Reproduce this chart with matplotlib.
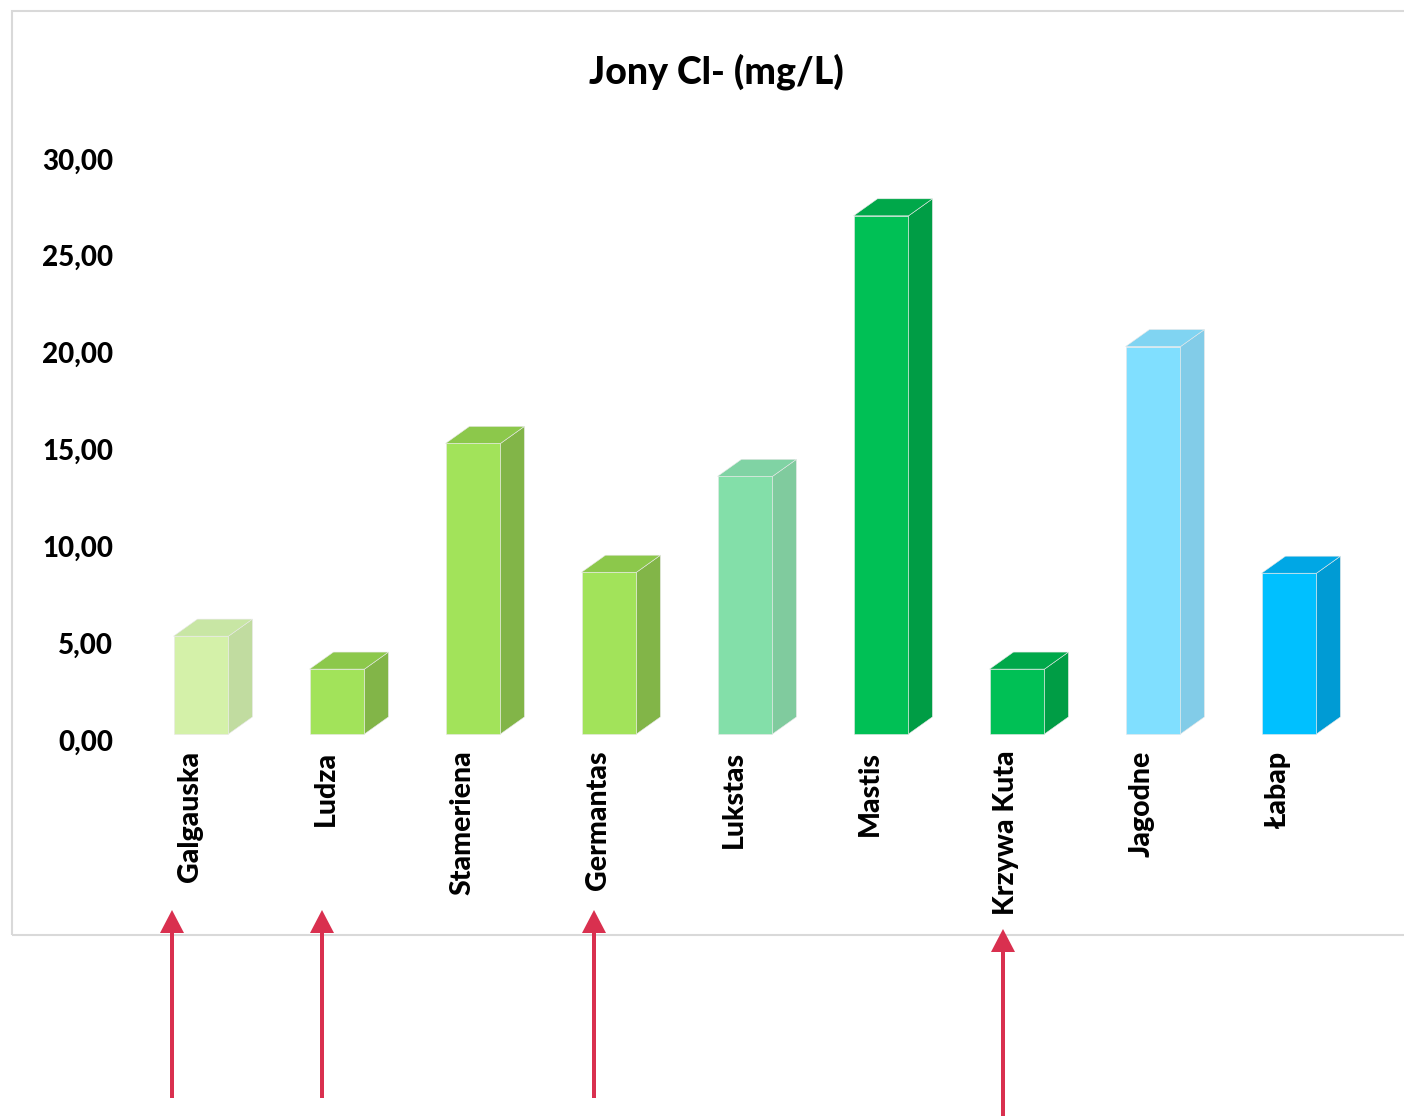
import matplotlib
matplotlib.use("Agg")
import matplotlib.pyplot as plt
from matplotlib.patches import Rectangle, Polygon, FancyArrow
from matplotlib.transforms import ScaledTranslation, IdentityTransform

# Chloride ion concentration per site
sites = ["Galgauska", "Ludza", "Stameriena", "Germantas", "Lukstas",
         "Mastis", "Krzywa Kuta", "Jagodne", "Łabap"]
chloride = [5.05, 3.35, 15.0, 8.35, 13.3, 26.75, 3.35, 20.0, 8.3]

# face colours per bar: front, side, top
front_colors = ["#D4F1A9", "#A2E35A", "#A2E35A", "#A2E35A", "#83DFA9",
                "#00C055", "#00C055", "#80DFFF", "#00C0FF"]
side_colors = ["#C1DCA0", "#82B548", "#82B548", "#82B548", "#80CB9E",
               "#009D45", "#009D45", "#82CCE8", "#009BD4"]
top_colors = ["#C8E6A4", "#8CC84B", "#8CC84B", "#8CC84B", "#80D3A4",
              "#00A84A", "#00A84A", "#80D4F2", "#00A7E5"]

yticks = [0, 5, 10, 15, 20, 25, 30]
ytick_labels = ["0,00", "5,00", "10,00", "15,00", "20,00", "25,00", "30,00"]

# sites flagged with arrows below the chart
flagged = ["Galgauska", "Ludza", "Germantas", "Krzywa Kuta"]

FONT = "Lato"
WEIGHT = 900
BAR_W = 0.404
DEPTH_X = 0.176
DEPTH_Y = 0.88
ARROW_COLOR = "#D9304F"
EDGE = "#E8E8E8"

fig = plt.figure(figsize=(14.04, 11.16), dpi=100)
fig.patch.set_facecolor("white")

# chart area border (runs off the right edge)
fig.add_artist(Rectangle((12, 1116 - 935), 1420, 924, transform=IdentityTransform(),
                         fill=False, edgecolor="#D9D9D9", linewidth=1.5))

ax = fig.add_axes([0.06083, 0.34229, 0.93476, 0.53808])
ax.set_xlim(-0.85, 8.8)
ax.set_ylim(0, 31)

for i, v in enumerate(chloride):
    x0 = i - BAR_W / 2
    x1 = i + BAR_W / 2
    ax.add_patch(Polygon([(x1, 0), (x1 + DEPTH_X, DEPTH_Y), (x1 + DEPTH_X, v + DEPTH_Y), (x1, v)],
                         closed=True, facecolor=side_colors[i], edgecolor=EDGE,
                         linewidth=0.4, clip_on=False))
    ax.add_patch(Polygon([(x0, v), (x0 + DEPTH_X, v + DEPTH_Y), (x1 + DEPTH_X, v + DEPTH_Y), (x1, v)],
                         closed=True, facecolor=top_colors[i], edgecolor=EDGE,
                         linewidth=0.4, clip_on=False))
    ax.add_patch(Rectangle((x0, 0), BAR_W, v, facecolor=front_colors[i],
                           edgecolor=EDGE, linewidth=0.4, clip_on=False))

for s in ax.spines.values():
    s.set_visible(False)

ax.set_yticks(yticks)
ax.set_yticklabels(ytick_labels, fontsize=20, fontweight=WEIGHT, family=FONT)
ax.tick_params(axis="y", length=0, pad=-19.9)
for lab in ax.get_yticklabels():
    lab.set_transform(lab.get_transform() + ScaledTranslation(0, -6 / 100, fig.dpi_scale_trans))

ax.set_xticks(range(len(sites)))
ax.set_xticklabels(sites, rotation=90, fontsize=20.5, fontweight=WEIGHT, family=FONT,
                   ha="center", va="top")
ax.tick_params(axis="x", length=0, pad=12)
for lab in ax.get_xticklabels():
    lab.set_transform(lab.get_transform() + ScaledTranslation(-11 / 100, 0, fig.dpi_scale_trans))

fig.text(716 / 1404, 1 - 72 / 1116, "Jony Cl- (mg/L)", ha="center", va="center",
         fontsize=27, fontweight=WEIGHT, family=FONT)

# red arrows pointing at the flagged sites
arrow_x = {"Galgauska": 172, "Ludza": 322, "Germantas": 594, "Krzywa Kuta": 1003}
arrow_tail = {"Galgauska": 1098, "Ludza": 1098, "Germantas": 1098, "Krzywa Kuta": 1120}
arrow_tip = {"Galgauska": 910, "Ludza": 910, "Germantas": 910, "Krzywa Kuta": 929}
for name in flagged:
    x = arrow_x[name]
    y0 = 1116 - arrow_tail[name]
    y1 = 1116 - arrow_tip[name]
    fig.add_artist(FancyArrow(x, y0, 0, y1 - y0, width=4, head_width=24, head_length=23,
                              length_includes_head=True, transform=IdentityTransform(),
                              facecolor=ARROW_COLOR, edgecolor="none"))

fig.savefig("out.png", dpi=100)
